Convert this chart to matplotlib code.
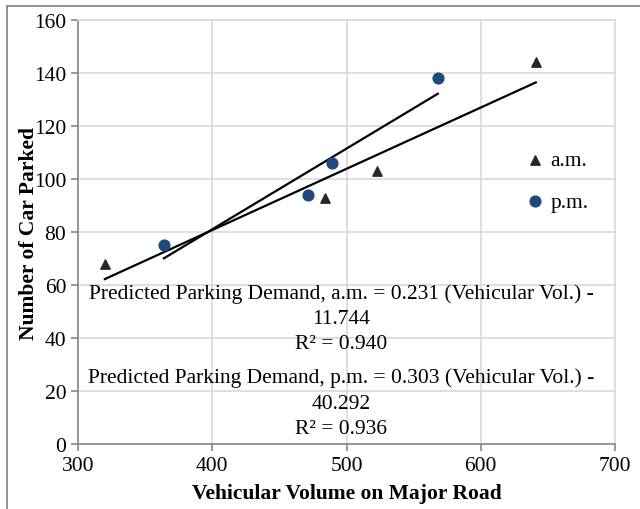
import numpy as np
import matplotlib
matplotlib.use("Agg")
import matplotlib.pyplot as plt
from matplotlib.patches import Rectangle

# data
am_vol = [320, 484, 523, 641]
am_cars = [68, 93, 103, 144]
pm_vol = [364, 471, 489, 568]
pm_cars = [75, 94, 106, 138]

am_eq = "Predicted Parking Demand, a.m. = 0.231 (Vehicular Vol.) -\n11.744\nR² = 0.940"
pm_eq = "Predicted Parking Demand, p.m. = 0.303 (Vehicular Vol.) -\n40.292\nR² = 0.936"

plt.rcParams["font.family"] = ["Liberation Serif", "DejaVu Serif"]

fig = plt.figure(figsize=(6.4, 5.1), dpi=100)
ax = fig.add_axes([78/640, 1 - 445/510, (615 - 78)/640, (445 - 21)/510])

# outer chart frame
fig.patches.append(Rectangle((7/640, -0.1), 1.2, 1 - 7/510 + 0.1, transform=fig.transFigure,
                             fill=False, edgecolor="#808080", linewidth=1.2))

grid_c = "#d9d9d9"
ax.set_xlim(300, 700)
ax.set_ylim(0, 160)
ax.set_xticks(np.arange(300, 701, 100))
ax.set_yticks(np.arange(0, 161, 20))
ax.grid(True, color=grid_c, linewidth=1.2)
ax.set_axisbelow(True)
for s in ["top", "right"]:
    ax.spines[s].set_color(grid_c)
    ax.spines[s].set_linewidth(1.2)
for s in ["left", "bottom"]:
    ax.spines[s].set_color("#868686")
    ax.spines[s].set_linewidth(1.2)
ax.tick_params(direction="out", length=5, color="#868686", labelsize=15.5, width=1.2)

# trendlines
for xs, ys in [(am_vol, am_cars), (pm_vol, pm_cars)]:
    k, b = np.polyfit(xs, ys, 1)
    xl = np.array([min(xs), max(xs)])
    ax.plot(xl, k * xl + b, color="black", linewidth=1.6, zorder=2)

ax.scatter(am_vol, am_cars, marker="^", s=45, color="#262626", zorder=3, label="a.m.")
ax.scatter(pm_vol, pm_cars, marker="o", s=60, color="#1f497d", zorder=3, label="p.m.")

ax.text(496, 47.5, am_eq, ha="center", va="center", fontsize=15.5, linespacing=1.45)
ax.text(496, 15.5, pm_eq, ha="center", va="center", fontsize=15.5, linespacing=1.45)

ax.legend(loc="center left", bbox_to_anchor=(0.79, 0.62), frameon=False, fontsize=15.5,
          handletextpad=0.15, labelspacing=1.0, handlelength=1.2)

ax.set_xlabel("Vehicular Volume on Major Road", fontsize=15.5, fontweight="bold", labelpad=6)
ax.set_ylabel("Number of Car Parked", fontsize=15.5, fontweight="bold", labelpad=-4)

fig.savefig("out.png", dpi=100)
